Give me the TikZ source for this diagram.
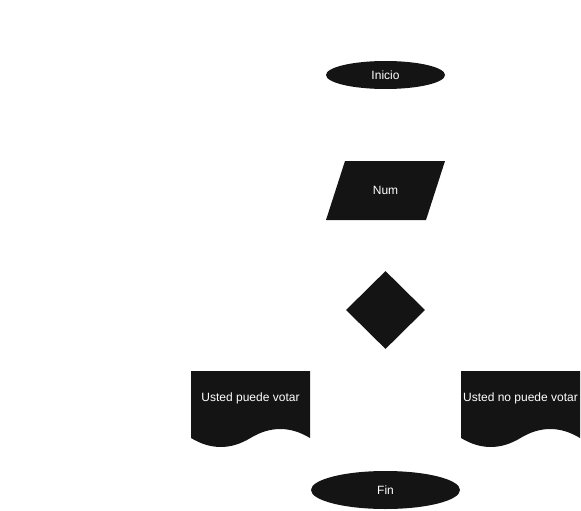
\documentclass[tikz,border=0pt]{standalone}
\usepackage{fontspec}
\setmainfont{Liberation Sans}
\usetikzlibrary{shapes.geometric}
\definecolor{shapefill}{RGB}{20,20,20}
\begin{document}
\begin{tikzpicture}[x=1pt, y=-1pt,
    font=\fontsize{12}{14}\selectfont,
    term/.style={ellipse, fill=shapefill, text=white, inner sep=0pt},
    decision/.style={diamond, fill=shapefill, inner sep=0pt, minimum width=79pt, minimum height=78pt},
    label/.style={text=white, inner sep=1pt}]

  \useasboundingbox (0,0) rectangle (581,511);

  % ── Start ──────────────────────────────────────────────────────────
  \node[term, minimum width=119pt, minimum height=28pt] (inicio) at (385.5,75) {Inicio};

  % ── Input (parallelogram) ──────────────────────────────────────────
  \fill[shapefill] (345,161) -- (445,161) -- (426,220) -- (326,220) -- cycle;
  \node[label] (num) at (385.5,190.5) {Num};

  % ── Decision ───────────────────────────────────────────────────────
  \node[decision] (cond) at (385.5,310) {};

  % ── Output documents (wavy bottom) ─────────────────────────────────
  \foreach \x/\name/\txt in {191/docsi/Usted puede votar, 461/docno/Usted no puede votar} {
    \fill[shapefill] (\x,371) -- ({\x+119},371) -- ({\x+119},438)
      .. controls ({\x+99.2},426) and ({\x+79.3},426) .. ({\x+59.5},438)
      .. controls ({\x+39.7},450) and ({\x+19.8},450) .. (\x,438) -- cycle;
    \node[label] (\name) at ({\x+59.5},398) {\txt};
  }

  % ── End ────────────────────────────────────────────────────────────
  \node[term, minimum width=149pt, minimum height=38pt] (fin) at (385.5,490) {Fin};

\end{tikzpicture}
\end{document}
